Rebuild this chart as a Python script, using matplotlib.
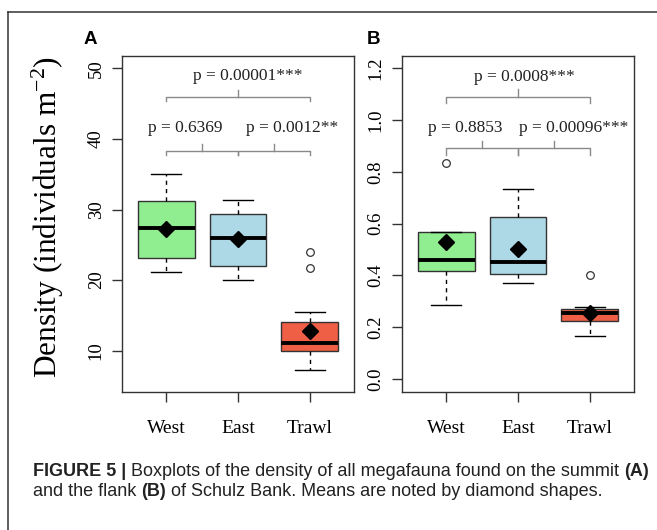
import matplotlib
matplotlib.use("Agg")
import matplotlib.pyplot as plt
from matplotlib.lines import Line2D

plt.rcParams['mathtext.fontset'] = 'custom'
plt.rcParams['mathtext.rm'] = 'Liberation Serif'
plt.rcParams['mathtext.it'] = 'Liberation Serif:italic'

# ---------------- data ----------------
categories = ["West", "East", "Trawl"]
colors = ["#90EE90", "#ADD8E6", "#EE5F45"]

# Panel A (summit)
a_whislo = [21.2, 20.0, 7.3]
a_q1 = [23.1, 22.0, 10.0]
a_med = [27.35, 25.95, 11.05]
a_q3 = [31.25, 29.35, 14.0]
a_whishi = [35.0, 31.3, 15.45]
a_mean = [27.25, 25.8, 12.8]
a_fliers = [[], [], [23.95, 21.7]]
a_ticks = [10, 20, 30, 40, 50]
a_pvals = ["p = 0.6369", "p = 0.0012**", "p = 0.00001***"]

# Panel B (flank)
b_whislo = [0.286, 0.372, 0.166]
b_q1 = [0.418, 0.404, 0.225]
b_med = [0.460, 0.452, 0.254]
b_q3 = [0.566, 0.625, 0.270]
b_whishi = [0.566, 0.733, 0.279]
b_mean = [0.530, 0.502, 0.256]
b_fliers = [[0.833], [], [0.400]]
b_ticks = [0.0, 0.2, 0.4, 0.6, 0.8, 1.0, 1.2]
b_tlabels = ["0.0", "0.2", "0.4", "0.6", "0.8", "1.0", "1.2"]
b_pvals = ["p = 0.8853", "p = 0.00096***", "p = 0.0008***"]

SERIF = "Liberation Serif"

W, H = 657, 530
fig = plt.figure(figsize=(W / 100, H / 100), dpi=100)
fig.patch.set_facecolor("white")


def px_axes(l, r, t, b):
    return fig.add_axes([l / W, 1 - b / H, (r - l) / W, (b - t) / H])


def draw_panel(ax, whislo, q1, med, q3, whishi, mean, fliers, ylim, ticks, tlabels,
               pvals, lower_h, upper_h, drop, rise, txt_pos):
    stats = []
    for i, c in enumerate(categories):
        stats.append(dict(label=c, whislo=whislo[i], q1=q1[i], med=med[i], q3=q3[i],
                          whishi=whishi[i], mean=mean[i], fliers=fliers[i]))
    bp = ax.bxp(stats, positions=[1, 2, 3], widths=0.79, capwidths=0.42,
                patch_artist=True, showmeans=True,
                boxprops=dict(edgecolor="#333333", linewidth=1.0),
                whiskerprops=dict(color="black", linestyle=(0, (3, 3)), linewidth=1.0),
                capprops=dict(color="black", linewidth=1.0),
                medianprops=dict(color="black", linewidth=2.8, solid_capstyle="butt"),
                meanprops=dict(marker="D", markerfacecolor="black", markeredgecolor="black",
                               markersize=8.5),
                flierprops=dict(marker="o", markerfacecolor="none", markeredgecolor="#333333",
                                markersize=5.5, markeredgewidth=0.9))
    for patch, col in zip(bp["boxes"], colors):
        patch.set_facecolor(col)
    ax.set_xlim(0.38, 3.62)
    ax.set_ylim(*ylim)
    ax.set_xticks([1, 2, 3])
    ax.set_xticklabels(categories, fontsize=14, family=SERIF)
    ax.set_yticks(ticks)
    ax.set_yticklabels(tlabels, fontsize=13.5, family=SERIF, rotation=90, va="center")
    ax.tick_params(axis="both", length=7.5, width=1.0, color="#333333", direction="out")
    ax.tick_params(axis="x", pad=13)
    ax.tick_params(axis="y", pad=5)
    for s in ax.spines.values():
        s.set_color("#333333")
        s.set_linewidth(1.0)

    gray = "#8a8a8a"

    def bracket(x1, x2, h):
        ax.plot([x1, x1, x2, x2], [h - drop, h, h, h - drop], color=gray, lw=1.0)
        xm = (x1 + x2) / 2
        ax.plot([xm, xm], [h, h + rise], color=gray, lw=1.0)

    bracket(1, 2, lower_h)
    bracket(2, 3, lower_h)
    bracket(1, 3, upper_h)
    for txt, (x, y) in zip(pvals, txt_pos):
        ax.text(x, y, txt, ha="center", va="center", fontsize=12.5, family=SERIF,
                color="#222222")


axA = px_axes(122, 354, 56, 392)
draw_panel(axA, a_whislo, a_q1, a_med, a_q3, a_whishi, a_mean, a_fliers,
           (4.15, 51.75), a_ticks, [str(t) for t in a_ticks], a_pvals,
           38.3, 46.0, 0.6, 1.0,
           [(1.27, 41.6), (2.75, 41.6), (2.13, 48.85)])

axB = px_axes(402, 634, 56, 392)
draw_panel(axB, b_whislo, b_q1, b_med, b_q3, b_whishi, b_mean, b_fliers,
           (-0.05, 1.2475), b_ticks, b_tlabels, b_pvals,
           0.891, 1.09, 0.025, 0.03,
           [(1.26, 0.97), (2.78, 0.97), (2.09, 1.168)])

# y label
fig.text(47.5 / W, 1 - 217.5 / H, "Density (individuals m$^{\\mathregular{-2}}$)", rotation=90,
         ha="center", va="center", fontsize=22.5, family=SERIF)

# panel letters
fig.text(90 / W, 1 - 39 / H, "A", ha="center", va="center", fontsize=13.5,
         fontweight="bold", family="Liberation Sans")
fig.text(373 / W, 1 - 39 / H, "B", ha="center", va="center", fontsize=13.5,
         fontweight="bold", family="Liberation Sans")

# frame lines
fig.add_artist(Line2D([8 / W, 1.0], [1 - 12 / H, 1 - 12 / H], color="#333333", lw=1.1,
                      transform=fig.transFigure))
fig.add_artist(Line2D([8 / W, 8 / W], [1 - 12 / H, 0.0], color="#333333", lw=1.1,
                      transform=fig.transFigure))

# caption
CAP = "Liberation Sans"
cs = 13.0
t1 = fig.text(33 / W, 1 - 472 / H, "FIGURE 5 |", fontsize=cs, fontweight="bold",
              family=CAP, va="center", ha="left", color="#222222")
t2 = fig.text(0, 0, " Boxplots of the density of all megafauna found on the summit ",
              fontsize=cs, family=CAP, va="center", ha="left", color="#222222")
t3 = fig.text(0, 0, "(A)", fontsize=cs, fontweight="bold", family=CAP, va="center",
              ha="left", color="#222222")
l2a = fig.text(33 / W, 1 - 491 / H, "and the flank ", fontsize=cs, family=CAP,
               va="center", ha="left", color="#222222")
l2b = fig.text(0, 0, "(B)", fontsize=cs, fontweight="bold", family=CAP, va="center",
               ha="left", color="#222222")
l2c = fig.text(0, 0, " of Schulz Bank. Means are noted by diamond shapes.", fontsize=cs,
               family=CAP, va="center", ha="left", color="#222222")

renderer = fig.canvas.get_renderer()


def chain(prev, nxt):
    bb = prev.get_window_extent(renderer)
    x, y = prev.get_position()
    nxt.set_position((bb.x1 / W, y))


chain(t1, t2)
chain(t2, t3)
chain(l2a, l2b)
chain(l2b, l2c)

fig.savefig("out.png", dpi=100)
